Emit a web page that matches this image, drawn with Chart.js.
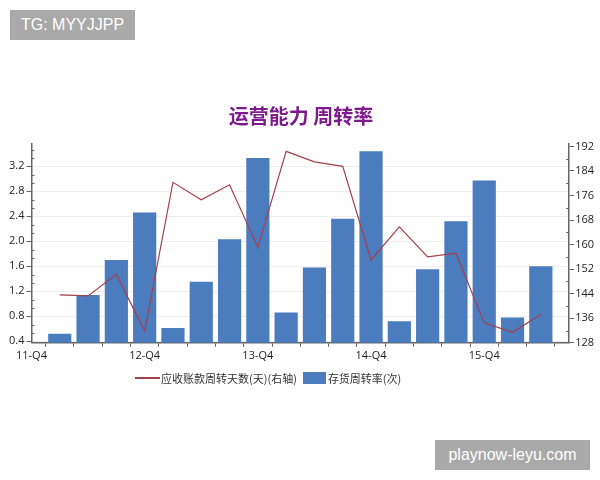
<!DOCTYPE html>
<html>
<head>
<meta charset="utf-8">
<script src="https://cdn.jsdelivr.net/npm/chart.js@4.4.0/dist/chart.umd.min.js"></script>
<style>
    body { margin: 0; background: #fff; }
    #wrap { position: relative; width: 600px; height: 480px; }
    .mark {
        position: absolute; background: #a9a9a9; color: #fff;
        font-family: "Liberation Sans", Arial, sans-serif; font-size: 16px;
        display: flex; align-items: center; justify-content: center;
    }
    #legend {
        position: absolute; left: 135px; top: 371px; height: 14px;
        display: flex; align-items: center;
        font-family: "Noto Sans CJK SC", sans-serif; font-size: 11px; color: #333;
    }
    #legend .line { width: 25px; height: 1.2px; }
    #legend .box { width: 23px; height: 12px; margin-left: 6px; }
    #legend span.txt { margin-left: 1px; white-space: nowrap; }
</style>
</head>
<body>
<div id="wrap">
    <canvas id="turnoverChart" width="600" height="480"></canvas>
    <div class="mark" style="left:10px;top:10px;width:125px;height:30px;">TG: MYYJJPP</div>
    <div class="mark" style="left:435px;top:440px;width:155px;height:30px;">playnow-leyu.com</div>
    <div id="legend"></div>
</div>
<script>
const quarters = ['11-Q4', '12-Q1', '12-Q2', '12-Q3', '12-Q4', '13-Q1', '13-Q2', '13-Q3', '13-Q4',
    '14-Q1', '14-Q2', '14-Q3', '14-Q4', '15-Q1', '15-Q2', '15-Q3', '15-Q4', '16-Q1', '16-Q2', '16-Q3'];
const shownQuarters = ['11-Q4', '12-Q4', '13-Q4', '14-Q4', '15-Q4'];

// 存货周转率(次) - left axis
const inventoryTurnover = [null, 0.52, 1.14, 1.70, 2.46, 0.61, 1.35, 2.03, 3.33, 0.86,
    1.58, 2.36, 3.44, 0.72, 1.55, 2.32, 2.97, 0.78, 1.60, null];
// 应收账款周转天数(天) - right axis
const receivableDays = [null, 143.6, 143.3, 150.3, 131.8, 180.3, 174.6, 179.5, 159.1, 190.4,
    187.0, 185.5, 155.0, 165.8, 156.0, 157.2, 134.5, 131.4, 137.2, null];

const lineLabel = '应收账款周转天数(天)(右轴)';
const barLabel = '存货周转率(次)';
const lineColor = '#a3404e';
const barColor = '#4a7cbe';
const axisColor = '#666';
const tickFont = { family: 'Open Sans', size: 11 };

// small inward ticks between the labelled ones
const minorTicks = {
    id: 'minorTicks',
    afterDraw(chart) {
        const ctx = chart.ctx;
        const left = chart.scales.y;
        const right = chart.scales.y1;
        ctx.save();
        ctx.strokeStyle = axisColor;
        ctx.lineWidth = 1;
        ctx.beginPath();
        const lstep = 0.4 / 3;
        for (let i = 1; 0.4 + i * lstep <= left.max; i++) {
            if (i % 3 === 0) continue;
            const py = Math.round(left.getPixelForValue(0.4 + i * lstep)) + 0.5;
            ctx.moveTo(left.right, py);
            ctx.lineTo(left.right + 3, py);
        }
        for (let v = 132; v <= right.max; v += 8) {
            const py = Math.round(right.getPixelForValue(v)) + 0.5;
            ctx.moveTo(right.left, py);
            ctx.lineTo(right.left - 3, py);
        }
        ctx.stroke();
        ctx.restore();
    }
};

const ctx = document.getElementById('turnoverChart').getContext('2d');
const chart = new Chart(ctx, {
    data: {
        labels: quarters,
        datasets: [{
            type: 'line',
            label: lineLabel,
            data: receivableDays,
            yAxisID: 'y1',
            borderColor: lineColor,
            borderWidth: 1.2,
            pointRadius: 0,
            tension: 0,
            order: 0
        }, {
            type: 'bar',
            label: barLabel,
            data: inventoryTurnover,
            yAxisID: 'y',
            backgroundColor: barColor,
            categoryPercentage: 1,
            barPercentage: 0.82,
            order: 1
        }]
    },
    options: {
        responsive: false,
        animation: false,
        layout: { padding: { left: 7, right: 5, top: 104, bottom: 116 } },
        plugins: {
            legend: { display: false },
            tooltip: { enabled: false },
            title: {
                display: true,
                text: '运营能力 周转率',
                color: '#7d1a8c',
                font: { family: 'Noto Sans CJK SC', size: 20, weight: 'bold' },
                padding: { top: 0, bottom: 16 }
            }
        },
        scales: {
            x: {
                offset: false,
                grid: { drawOnChartArea: false, tickLength: 4, tickColor: axisColor },
                border: { color: axisColor, width: 1.5 },
                ticks: {
                    autoSkip: false,
                    maxRotation: 0,
                    padding: 2,
                    color: '#222',
                    font: tickFont,
                    callback: function(value, index) {
                        const q = quarters[index];
                        return shownQuarters.includes(q) ? q : '';
                    }
                }
            },
            y: {
                position: 'left',
                min: 0.375,
                max: 3.556,
                grid: { color: '#efefef', tickColor: axisColor, tickLength: 5 },
                border: { color: axisColor, width: 1.5 },
                ticks: {
                    stepSize: 0.4,
                    includeBounds: false,
                    padding: 2,
                    color: '#222',
                    font: tickFont,
                    callback: function(value) {
                        return value.toFixed(1);
                    }
                }
            },
            y1: {
                position: 'right',
                min: 128,
                max: 192.8,
                grid: { drawOnChartArea: false, tickColor: axisColor, tickLength: 5 },
                border: { color: axisColor, width: 1.5 },
                ticks: {
                    stepSize: 8,
                    includeBounds: false,
                    padding: 1,
                    color: '#222',
                    font: tickFont
                }
            }
        }
    },
    plugins: [minorTicks]
});

// legend drawn as html so it sits where the original has it
const legend = document.getElementById('legend');
legend.innerHTML =
    '<span class="line" style="background:' + lineColor + '"></span>' +
    '<span class="txt">' + lineLabel + '</span>' +
    '<span class="box" style="background:' + barColor + '"></span>' +
    '<span class="txt" style="margin-left:2px">' + barLabel + '</span>';
</script>
</body>
</html>
